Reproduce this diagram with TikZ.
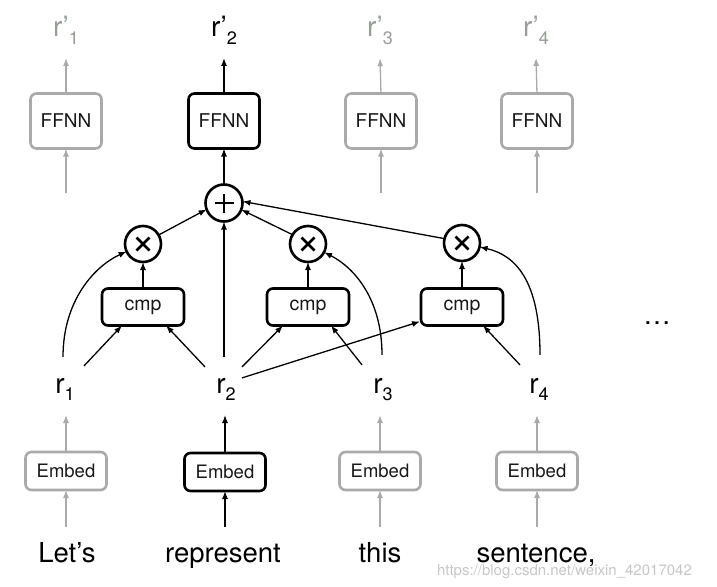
\documentclass[tikz,border=0pt]{standalone}
\usepackage{fontspec}
\setmainfont{TeX Gyre Heros}
\usetikzlibrary{arrows.meta}
\definecolor{gline}{RGB}{170,170,170}
\definecolor{gtxt}{RGB}{150,158,150}
\definecolor{dtxt}{RGB}{25,25,25}
\newcommand{\rsub}[1]{r\raisebox{-7pt}{\fontsize{18}{18}\selectfont #1}}
\newcommand{\rpsub}[1]{r’\raisebox{-8pt}{\fontsize{18}{18}\selectfont #1}}
\begin{document}
\begin{tikzpicture}[x=1pt,y=-1pt,
  every node/.style={inner sep=0pt,outer sep=0pt},
  blk/.style={draw=black,line width=2.6pt,rounded corners=6pt,fill=white,text=dtxt},
  gry/.style={draw=gline},
  ffnnbox/.style={blk,minimum width=71pt,minimum height=55pt,font=\fontsize{19}{19}\selectfont},
  cmpbox/.style={blk,minimum width=82pt,minimum height=37pt,font=\fontsize{19.5}{19.5}\selectfont},
  embbox/.style={blk,minimum width=81pt,minimum height=38pt,font=\fontsize{18.5}{18.5}\selectfont},
  opnode/.style={circle,draw=black,line width=2.6pt,fill=white,minimum size=37pt},
  plusop/.style={opnode,path picture={\draw[line width=2.8pt]
      ([xshift=-9.5pt]path picture bounding box.center) -- ([xshift=9.5pt]path picture bounding box.center)
      ([yshift=-9.5pt]path picture bounding box.center) -- ([yshift=9.5pt]path picture bounding box.center);}},
  timesop/.style={opnode,minimum size=36pt,path picture={\draw[line width=2.8pt]
      ([shift={(-6.5pt,-6.5pt)}]path picture bounding box.center) -- ([shift={(6.5pt,6.5pt)}]path picture bounding box.center)
      ([shift={(-6.5pt,6.5pt)}]path picture bounding box.center) -- ([shift={(6.5pt,-6.5pt)}]path picture bounding box.center);}},
  lab/.style={font=\fontsize{28}{28}\selectfont,anchor=base},
  word/.style={font=\fontsize{27.5}{27.5}\selectfont,anchor=base},
  arr/.style={line width=1.3pt,-{Latex[length=8pt,width=6pt]}},
  garr/.style={arr,draw=gline},
]
\useasboundingbox (0,0) rectangle (717,586);

% top FFNN layer
\node[ffnnbox,gry] (f1) at (66,121) {FFNN};
\node[ffnnbox]     (f2) at (224,121) {FFNN};
\node[ffnnbox,gry] (f3) at (381,121) {FFNN};
\node[ffnnbox,gry] (f4) at (537,121) {FFNN};

\node[lab,text=gtxt] (o1) at (66,37) {\rpsub{1}};
\node[lab]           (o2) at (224,37) {\rpsub{2}};
\node[lab,text=gtxt] (o3) at (380,37) {\rpsub{3}};
\node[lab,text=gtxt] (o4) at (536,37) {\rpsub{4}};

\draw[garr] (f1.north) -- ([yshift=-13pt]o1.south);
\draw[arr]  (f2.north) -- ([yshift=-13pt]o2.south);
\draw[garr] (f3.north) -- ([yshift=-13pt]o3.south);
\draw[garr] (f4.north) -- ([yshift=-13pt]o4.south);

\coordinate (i1) at (66,193);
\coordinate (i3) at (381,193);
\coordinate (i4) at (537,193);
\draw[garr] (i1) -- (f1);
\draw[garr] (i3) -- (f3);
\draw[garr] (i4) -- (f4);

% operators
\node[plusop]  (plus) at (224,203) {};
\node[timesop] (x1) at (143,244) {};
\node[timesop] (x2) at (308,244) {};
\node[timesop] (x3) at (462,243) {};
\draw[arr] (plus) -- (f2);

\node[cmpbox] (cmp1) at (143,307) {cmp};
\node[cmpbox] (cmp2) at (308,307) {cmp};
\node[cmpbox] (cmp3) at (462,307) {cmp};

\draw[arr] (cmp1) -- (x1);
\draw[arr] (cmp2) -- (x2);
\draw[arr] (cmp3) -- (x3);
\draw[arr] (x1.30) -- (plus.200);
\draw[arr] (x2.149) -- (plus.339);
\draw[arr] (x3.166) -- (plus.5);

% r labels
\node[lab] (r1) at (65,393) {\rsub{1}};
\node[lab] (r2) at (226,393) {\rsub{2}};
\node[lab] (r3) at (383,393) {\rsub{3}};
\node[lab] (r4) at (539,393) {\rsub{4}};

\draw[arr] ([shift={(-2,-21)}]r1.north) .. controls (63,300) and (95,266) .. (x1);
\draw[arr] ([shift={(19,-12)}]r1.north) -- ([xshift=-21pt]cmp1.south);
\draw[arr] ([shift={(-21,-11)}]r2.north) -- ([xshift=23pt]cmp1.south);
\draw[arr] ([shift={(-2,-21)}]r2.north) -- (plus);
\draw[arr] ([shift={(16,-11)}]r2.north) -- ([xshift=-25pt]cmp2.south);
\draw[arr] ([shift={(16,0)}]r2.north) -- ([shift={(-1pt,4pt)}]cmp3.south west);
\draw[arr] ([shift={(-21,-13)}]r3.north) -- ([xshift=23pt]cmp2.south);
\draw[arr] ([shift={(-1,-23)}]r3.north) .. controls (382,300) and (355,268) .. (x2);
\draw[arr] ([shift={(-19,-13)}]r4.north) -- ([xshift=21pt]cmp3.south);
\draw[arr] ([shift={(1,-23)}]r4.north) .. controls (540,280) and (515,255) .. (x3);

\node[font=\fontsize{27.5}{27.5}\selectfont,anchor=base] (dots) at (657,324) {…};

% embeddings
\node[embbox,gry] (e1) at (66,471) {Embed};
\node[embbox]     (e2) at (225,472) {Embed};
\node[embbox,gry] (e3) at (380,471) {Embed};
\node[embbox,gry] (e4) at (537,471) {Embed};

\coordinate (u1) at (66,415);
\coordinate (u2) at (225,415);
\coordinate (u3) at (380,415);
\coordinate (u4) at (537,415);
\draw[garr] (e1) -- (u1);
\draw[arr]  (e2) -- (u2);
\draw[garr] (e3) -- (u3);
\draw[garr] (e4) -- (u4);

% words
\node[word] (w1) at (67,562) {Let’s};
\node[word] (w2) at (223,562) {represent};
\node[word] (w3) at (380,562) {this};
\node[word] (w4) at (536,562) {sentence,};

\coordinate (d1) at (66,527);
\coordinate (d2) at (225,527);
\coordinate (d3) at (380,527);
\coordinate (d4) at (537,527);
\draw[garr] (d1) -- (e1);
\draw[arr]  (d2) -- (e2);
\draw[garr] (d3) -- (e3);
\draw[garr] (d4) -- (e4);

\node[font=\fontsize{15}{15}\selectfont,text=black!22,anchor=base west] (wm) at (437,575) {https://blog.csdn.net/weixin\_42017042};
\end{tikzpicture}
\end{document}
